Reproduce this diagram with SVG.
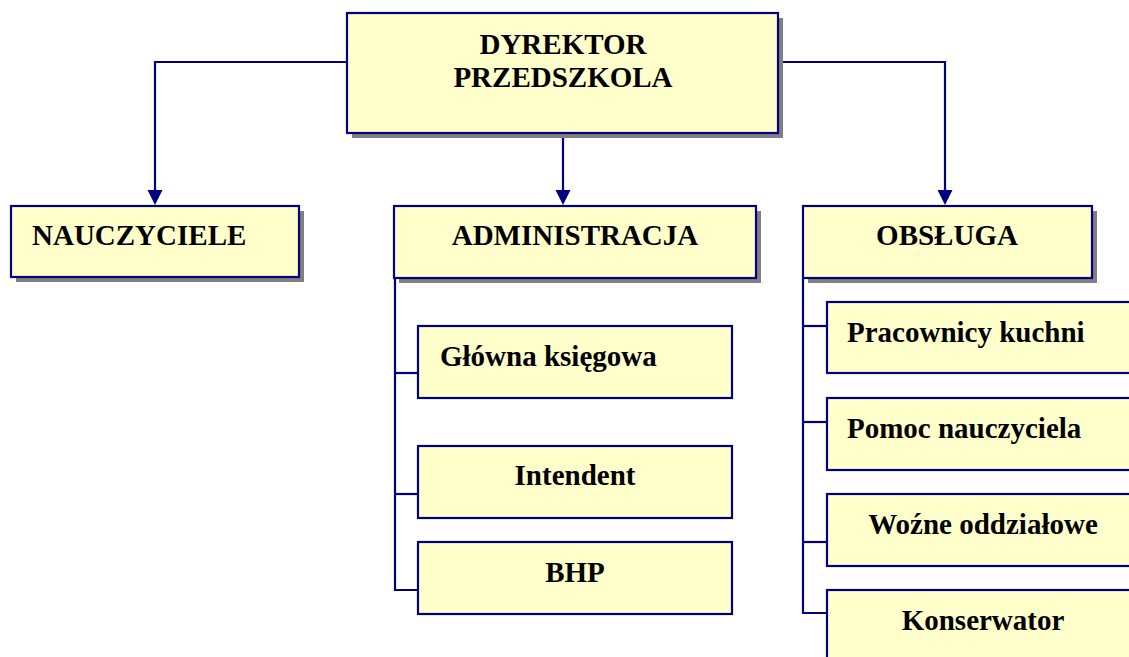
<svg xmlns="http://www.w3.org/2000/svg" width="1129" height="657" viewBox="0 0 1129 657">
<style>
.box{fill:#FFFFCC;stroke:#000080;stroke-width:2.2}
.shadow{fill:#808080}
.lbl{font-family:'Liberation Serif','Times New Roman',Times,serif;font-weight:bold;font-size:29px;fill:#000}
.c{text-anchor:middle}
.conn{fill:none;stroke:#000080;stroke-width:2.2}
</style>
<rect width="1129" height="657" fill="#fff"/>
<g id="connectors">
<path class="conn" d="M347,62 H155 V190"/>
<path class="conn" d="M778,62 H945 V190"/>
<path class="conn" d="M563,133 V190"/>
<path d="M147.5,190 L162.5,190 L155,205 Z" fill="#000080"/>
<path d="M937.5,190 L952.5,190 L945,205 Z" fill="#000080"/>
<path d="M555.5,190 L570.5,190 L563,205 Z" fill="#000080"/>
<path class="conn" d="M395,278 V590 H418"/>
<path class="conn" d="M395,373 H418"/>
<path class="conn" d="M395,494 H418"/>
<path class="conn" d="M803,278 V613 H827"/>
<path class="conn" d="M803,326 H827"/>
<path class="conn" d="M803,422 H827"/>
<path class="conn" d="M803,542 H827"/>
</g>
<g id="dyrektor">
<rect class="shadow" x="352" y="18" width="431" height="120"/>
<rect class="box" x="347" y="13" width="431" height="120"/>
<text class="lbl c" x="563" y="54" font-family="Liberation Serif, serif">DYREKTOR</text>
<text class="lbl c" x="563" y="87" font-family="Liberation Serif, serif">PRZEDSZKOLA</text>
</g>
<g id="nauczyciele">
<rect class="shadow" x="16" y="211" width="288" height="71"/>
<rect class="box" x="11" y="206" width="288" height="71"/>
<text class="lbl" x="32" y="245" font-family="Liberation Serif, serif">NAUCZYCIELE</text>
</g>
<g id="administracja">
<rect class="shadow" x="399" y="211" width="362" height="72"/>
<rect class="box" x="394" y="206" width="362" height="72"/>
<text class="lbl c" x="575" y="245" font-family="Liberation Serif, serif">ADMINISTRACJA</text>
</g>
<g id="obsluga">
<rect class="shadow" x="808" y="211" width="289" height="72"/>
<rect class="box" x="803" y="206" width="289" height="72"/>
<text class="lbl c" x="947" y="245" font-family="Liberation Serif, serif">OBSŁUGA</text>
</g>
<g id="glowna">
<rect class="box" x="418" y="326" width="314" height="72"/>
<text class="lbl" x="440" y="366" font-family="Liberation Serif, serif">Główna księgowa</text>
</g>
<g id="intendent">
<rect class="box" x="418" y="446" width="314" height="72"/>
<text class="lbl c" x="575" y="485" font-family="Liberation Serif, serif">Intendent</text>
</g>
<g id="bhp">
<rect class="box" x="418" y="542" width="314" height="72"/>
<text class="lbl c" x="575" y="582" font-family="Liberation Serif, serif">BHP</text>
</g>
<g id="kuchnia">
<rect class="box" x="827" y="302" width="320" height="71"/>
<text class="lbl" x="847" y="342" font-family="Liberation Serif, serif">Pracownicy kuchni</text>
</g>
<g id="pomoc">
<rect class="box" x="827" y="398" width="320" height="72"/>
<text class="lbl" x="847" y="438" font-family="Liberation Serif, serif">Pomoc nauczyciela</text>
</g>
<g id="wozne">
<rect class="box" x="827" y="494" width="320" height="72"/>
<text class="lbl c" x="983" y="534" font-family="Liberation Serif, serif">Woźne oddziałowe</text>
</g>
<g id="konserwator">
<rect class="box" x="827" y="590" width="320" height="80"/>
<text class="lbl c" x="983" y="630" font-family="Liberation Serif, serif">Konserwator</text>
</g>
</svg>
